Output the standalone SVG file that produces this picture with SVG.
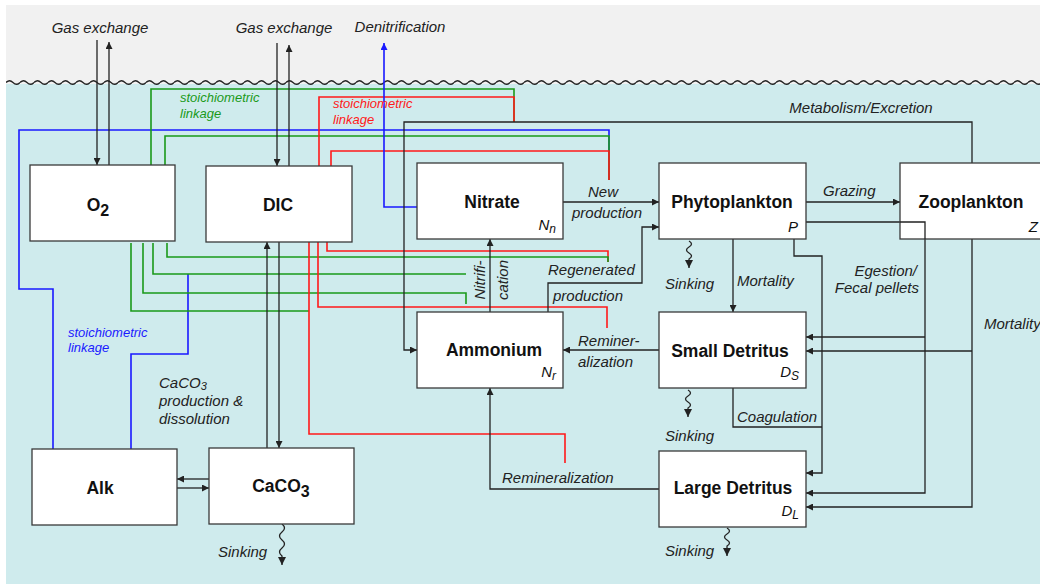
<svg xmlns="http://www.w3.org/2000/svg" width="1040" height="585" viewBox="0 0 1040 585">
<style>
.box{fill:#fff;stroke:#3a3a3a;stroke-width:1.3}
.lbl{font-family:"Liberation Sans",Arial,sans-serif;font-weight:bold;font-size:17.5px;text-anchor:middle;fill:#111}
.idx{font-family:"Liberation Sans",Arial,sans-serif;font-style:italic;font-size:15px;text-anchor:end;fill:#111}
.it{font-family:"Liberation Sans",Arial,sans-serif;font-style:italic;font-size:15px;fill:#222}
.st{font-family:"Liberation Sans",Arial,sans-serif;font-style:italic;font-size:13px}
.k{fill:none;stroke:#222;stroke-width:1.3}
.g{fill:none;stroke:#1a9a1a;stroke-width:1.6}
.r{fill:none;stroke:#ff1a1a;stroke-width:1.6}
.b{fill:none;stroke:#1a1aff;stroke-width:1.6}
</style>
<defs>
<marker id="ah" viewBox="0 0 10 10" refX="10" refY="5" markerWidth="9" markerHeight="7" orient="auto" markerUnits="userSpaceOnUse"><path d="M0,0 L10,5 L0,10 z" fill="#222"/></marker>
<marker id="ahs" viewBox="0 0 10 10" refX="10" refY="5" markerWidth="9" markerHeight="8" orient="auto" markerUnits="userSpaceOnUse"><path d="M0,0 L10,5 L0,10 z" fill="#222"/></marker>
<marker id="ahb" viewBox="0 0 10 10" refX="10" refY="5" markerWidth="9" markerHeight="7" orient="auto" markerUnits="userSpaceOnUse"><path d="M0,0 L10,5 L0,10 z" fill="#1a1aff"/></marker>
<pattern id="wv" x="6" y="77" width="14" height="11" patternUnits="userSpaceOnUse"><path d="M0,5.5 Q3.5,2 7,5.5 T14,5.5" stroke="#222" stroke-width="1.3" fill="none"/></pattern>
</defs>
<rect x="0" y="0" width="1040" height="585" fill="#fff"/>
<rect x="6" y="5" width="1034" height="80" fill="#f1f1f1"/>
<rect x="6" y="84" width="1034" height="500" fill="#cfebed"/>
<rect x="6" y="77" width="1034" height="11" fill="url(#wv)"/>

<g id="stoich-lines">
<path class="b" d="M53,449 V289 H19 V130 H609 V180"/>
<path class="b" d="M131,449 V354 H188 V274"/>
<path class="r" d="M327,242 V251 H608 V262"/>
<path class="g" d="M151,165 V89 H514 V122"/>
<path class="g" d="M165,165 V136 H609 V180"/>
<path class="g" d="M167,243 V257 H608 V262"/>
<path class="g" d="M153,243 V274 H466"/>
<path class="g" d="M143,243 V293 H466 V304"/>
<path class="g" d="M131,243 V311 H309"/>
<path class="r" d="M319,166 V97 H514 V122"/>
<path class="r" d="M331,166 V151 H609 V180"/>
<path class="r" d="M318,242 V307 H607 V328"/>
<path class="r" d="M309,242 V434 H565 V463"/>
<path class="b" d="M417,207 H384 V43" marker-end="url(#ahb)"/>
</g>

<g id="connectors">
<path class="k" d="M97,40 V165" marker-end="url(#ah)"/>
<path class="k" d="M109,165 V42" marker-end="url(#ah)"/>
<path class="k" d="M277,43 V166" marker-end="url(#ah)"/>
<path class="k" d="M289,166 V45" marker-end="url(#ah)"/>
<path class="k" d="M972,163 V122 H404 V350 H417" marker-end="url(#ah)"/>
<path class="k" d="M563,202 H659" marker-end="url(#ah)"/>
<path class="k" d="M548,312 V283 H642 V227 H659" marker-end="url(#ah)"/>
<path class="k" d="M490,312 V239" marker-end="url(#ah)"/>
<path class="k" d="M806,202 H900" marker-end="url(#ah)"/>
<path class="k" d="M733,239 V312" marker-end="url(#ah)"/>
<path class="k" d="M794,239 V256 H822 V473 H806" marker-end="url(#ah)"/>
<path class="k" d="M733,388 V427 H822"/>
<path class="k" d="M806,222 H925 V493 H806" marker-end="url(#ah)"/>
<path class="k" d="M925,337 H806" marker-end="url(#ah)"/>
<path class="k" d="M972,239 V507 H806" marker-end="url(#ah)"/>
<path class="k" d="M972,351 H806" marker-end="url(#ah)"/>
<path class="k" d="M659,350 H563" marker-end="url(#ah)"/>
<path class="k" d="M659,489 H490 V388" marker-end="url(#ah)"/>
<path class="k" d="M267,448 V242" marker-end="url(#ah)"/>
<path class="k" d="M279,242 V448" marker-end="url(#ah)"/>
<path class="k" d="M209,479 H177" marker-end="url(#ah)"/>
<path class="k" d="M177,488 H209" marker-end="url(#ah)"/>
<path class="k" d="M689,241 q5,3 0,6 t0,6 t0,6 v9" marker-end="url(#ahs)"/>
<path class="k" d="M688,390 q5,3 0,6 t0,6 t0,6 v9" marker-end="url(#ahs)"/>
<path class="k" d="M727,528 q5,3 0,6 t0,6 t0,6 v10" marker-end="url(#ahs)"/>
<path class="k" d="M282,524 q5,4 0,8 t0,8 t0,8 t0,8 v9" marker-end="url(#ahs)"/>
</g>

<g id="labels">
<text class="it" x="100" y="33" text-anchor="middle">Gas exchange</text>
<text class="it" x="284" y="33" text-anchor="middle">Gas exchange</text>
<text class="it" x="400" y="32" text-anchor="middle">Denitrification</text>
<text class="st" x="180" y="102" fill="#1a9a1a">stoichiometric</text>
<text class="st" x="180" y="118" fill="#1a9a1a">linkage</text>
<text class="st" x="333" y="108" fill="#ff1a1a">stoichiometric</text>
<text class="st" x="333" y="124" fill="#ff1a1a">linkage</text>
<text class="st" x="68" y="337" fill="#1a1aff">stoichiometric</text>
<text class="st" x="68" y="352" fill="#1a1aff">linkage</text>
<text class="it" x="861" y="113" text-anchor="middle">Metabolism/Excretion</text>
<text class="it" x="588" y="197">New</text>
<text class="it" x="572" y="218">production</text>
<text class="it" x="823" y="196">Grazing</text>
<text class="it" x="548" y="275">Regenerated</text>
<text class="it" x="553" y="301">production</text>
<text class="it" transform="translate(485,280) rotate(-90)" text-anchor="middle">Nitrifi-</text>
<text class="it" transform="translate(508,280) rotate(-90)" text-anchor="middle">cation</text>
<text class="it" x="737" y="286">Mortality</text>
<text class="it" x="917" y="276" text-anchor="end">Egestion/</text>
<text class="it" x="919" y="293" text-anchor="end">Fecal pellets</text>
<text class="it" x="984" y="329">Mortality</text>
<text class="it" x="578" y="346">Reminer-</text>
<text class="it" x="578" y="367">alization</text>
<text class="it" x="737" y="422">Coagulation</text>
<text class="it" x="502" y="483">Remineralization</text>
<text class="it" x="159" y="388">CaCO<tspan font-size="11" dy="2">3</tspan></text>
<text class="it" x="159" y="406">production &amp;</text>
<text class="it" x="159" y="424">dissolution</text>
<text class="it" x="665" y="289">Sinking</text>
<text class="it" x="665" y="441">Sinking</text>
<text class="it" x="665" y="556">Sinking</text>
<text class="it" x="218" y="557">Sinking</text>
</g>

<g id="node-o2">
<rect class="box" x="30" y="165" width="145" height="76"/>
<text class="lbl" x="98" y="211">O<tspan font-size="16" dy="5">2</tspan></text>
</g>
<g id="node-dic">
<rect class="box" x="206" y="166" width="146" height="76"/>
<text class="lbl" x="278" y="211">DIC</text>
</g>
<g id="node-nitrate">
<rect class="box" x="417" y="163" width="146" height="76"/>
<text class="lbl" x="492" y="208">Nitrate</text>
<text class="idx" x="556" y="230">N<tspan font-size="12" dy="3">n</tspan></text>
</g>
<g id="node-phytoplankton">
<rect class="box" x="659" y="163" width="147" height="76"/>
<text class="lbl" x="732" y="208">Phytoplankton</text>
<text class="idx" x="798" y="232">P</text>
</g>
<g id="node-zooplankton">
<rect class="box" x="900" y="163" width="146" height="76"/>
<text class="lbl" x="971" y="208">Zooplankton</text>
<text class="idx" x="1038" y="232">Z</text>
</g>
<path class="k" d="M900,222 H925 V239"/>
<g id="node-ammonium">
<rect class="box" x="417" y="312" width="146" height="76"/>
<text class="lbl" x="494" y="356">Ammonium</text>
<text class="idx" x="556" y="377">N<tspan font-size="12" dy="3">r</tspan></text>
</g>
<g id="node-small-detritus">
<rect class="box" x="659" y="312" width="147" height="76"/>
<text class="lbl" x="730" y="357">Small Detritus</text>
<text class="idx" x="799" y="377">D<tspan font-size="12" dy="3">S</tspan></text>
</g>
<g id="node-large-detritus">
<rect class="box" x="659" y="451" width="147" height="76"/>
<text class="lbl" x="733" y="494">Large Detritus</text>
<text class="idx" x="799" y="516">D<tspan font-size="12" dy="3">L</tspan></text>
</g>
<g id="node-alk">
<rect class="box" x="32" y="449" width="145" height="76"/>
<text class="lbl" x="100" y="494">Alk</text>
</g>
<g id="node-caco3">
<rect class="box" x="209" y="448" width="145" height="76"/>
<text class="lbl" x="281" y="492">CaCO<tspan font-size="16" dy="5">3</tspan></text>
</g>
</svg>
